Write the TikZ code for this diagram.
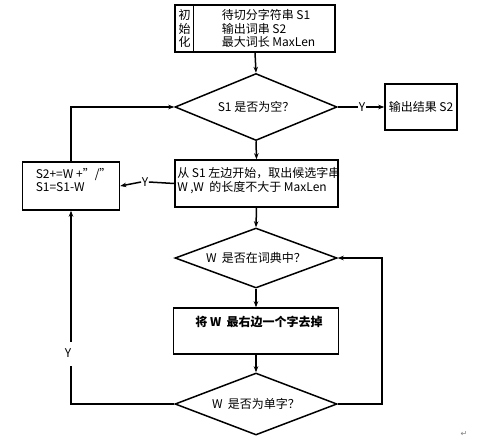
\documentclass[tikz,border=0pt]{standalone}
\usepackage{fontspec}
\setmainfont{Noto Sans CJK SC}
\newfontfamily\symfont{DejaVu Sans}
\usetikzlibrary{shapes.geometric,arrows.meta}
\begin{document}
\begin{tikzpicture}[x=1pt,y=-1pt,line width=1.5pt,
  font=\fontsize{12}{13.5}\selectfont,
  box/.style={draw,rectangle,inner sep=0pt},
  dia/.style={draw,diamond,inner sep=0pt,aspect=2.4},
  txt/.style={inner sep=0pt},
  arr/.style={-{Stealth[length=6pt,width=4.5pt]}}]
\useasboundingbox[fill=white] (0,0) rectangle (500,442);
% init
\node[box,minimum width=160pt,minimum height=47pt] (init) at (255,28.5) {};
\draw ([xshift=19pt]init.north west) -- ([xshift=19pt]init.south west);
\node[txt,align=center] (initlab) at (184.5,28.5) {初\\始\\化};
\node[txt,align=left,anchor=west] (inittxt) at (221,28.5) {待切分字符串 S1\\输出词串 S2\\最大词长 MaxLen};
% diamond 1
\node[dia,minimum width=162pt,minimum height=67pt] (d1) at (256,107) {S1 是否为空？};
\node[box,minimum width=72pt,minimum height=46pt] (out) at (421,107) {};
\node[txt] (outtxt) at (421,107) {输出结果 S2};
\node[txt] (y1) at (362,107) {Y};
\draw (d1.east) -- (y1.west);
\draw[arr] (y1.east) -- (out.west);
% middle box
\node[box,minimum width=163pt,minimum height=47pt] (mid) at (256.5,183.5) {};
\node[txt,align=left,anchor=west] (midtxt) at (176.5,180.5) {从 S1 左边开始，取出候选字串\\W ,W \ 的长度不大于 MaxLen};
% left box
\node[box,minimum width=97pt,minimum height=48pt] (lbox) at (71,186) {};
\node[txt,align=left,anchor=west] (ltxt) at (35,180) {S2+=W +”/”\\S1=S1-W};
\node[txt] (y2) at (145,182) {Y};
\draw (mid.west) -- (y2.east);
\draw[arr] (y2.west) -- (lbox.east);
\draw[arr] (lbox.north) |- (d1.west);
% diamond 2
\node[dia,minimum width=162pt,minimum height=60pt] (d2) at (256,258) {W \ 是否在词典中？};
% box 3
\node[box,minimum width=165pt,minimum height=46pt] (b3) at (256,331) {};
\node[txt] (b3txt) at (259,322) {\textbf{将 W \ 最右边一个字去掉}};
% diamond 3
\node[dia,minimum width=162pt,minimum height=62pt] (d3) at (256,404) {W \ 是否为单字？};
\node[txt] (y3) at (68,353) {Y};
% vertical flow
\draw[arr] (init.south) -- (d1.north);
\draw[arr] (d1.south) -- (mid.north);
\draw[arr] (mid.south) -- (d2.north);
\draw[arr] (d2.south) -- (b3.north);
\draw[arr] (b3.south) -- (d3.north);
% loops
\draw (d3.west) -| ([xshift=3pt,yshift=-8pt]y3.south);
\draw[arr] ([xshift=3pt,yshift=6pt]y3.north) -- (lbox.south);
\coordinate (rc) at (382,404);
\draw[arr] (d3.east) -- (rc) |- (d2.east);
\node[txt,text=gray] (ret) at (464,434) {\symfont\fontsize{8}{8}\selectfont ↵};
\end{tikzpicture}
\end{document}
